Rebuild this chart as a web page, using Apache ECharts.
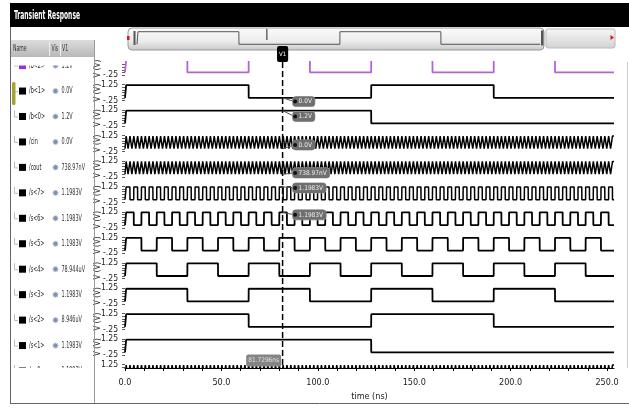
<!DOCTYPE html>
<html>
<head>
<meta charset="utf-8">
<script src="https://cdn.jsdelivr.net/npm/echarts@6.0.0/dist/echarts.min.js"></script>
<style>
    html, body { margin: 0; padding: 0; background: #fff; }
    #main { width: 629px; height: 408px; }
</style>
</head>
<body>
<div id="main"></div>
<script>
// 信号名称(从上到下)
var names = ['/b<2>', '/b<1>', '/b<0>', '/cin', '/cout', '/s<7>', '/s<6>', '/s<5>', '/s<4>', '/s<3>', '/s<2>', '/s<1>', '/s<0>'];
// V1 光标处读数
var cursorValues = ['1.2V', '0.0V', '1.2V', '0.0V', '738.97nV', '1.1983V', '1.1983V', '1.1983V', '78.944uV', '1.1983V', '8.946uV', '1.1983V', '1.1983V'];
var cursorTime = 81.7296; // ns
var cursorLabel = '81.7296ns';
var tickNs = 0.993;      // 每个计数周期
var firstEdgeNs = 0.6;
var highVolt = 1.2;
var timeMax = 253.6;
var timeLabels = [0, 50, 100, 150, 200, 250];
var timeTicks = [0, 10, 20, 30, 40, 50, 60, 70, 80, 90, 100, 110, 120, 130, 140, 150, 160, 170, 180, 190, 200, 210, 220, 230, 240, 250];
var voltLabels = [-0.25, 1.25];
var voltTicks = [-0.25, 0, 0.25, 0.5, 0.75, 1, 1.25];

// 电平: 每个字符一个计数周期, 1=高 0=低 (16个一组)
var lvB2 = '1111111111111111 1111111111111111 0000000000000000 0000000000000000 1111111111111111 1111111111111111 0000000000000000 0000000000000000 1111111111111111 1111111111111111 0000000000000000 0000000000000000 1111111111111111 1111111111111111 0000000000000000 0000000000000000';
var lvB1 = '1111111111111111 1111111111111111 1111111111111111 1111111111111111 0000000000000000 0000000000000000 0000000000000000 0000000000000000 1111111111111111 1111111111111111 1111111111111111 1111111111111111 0000000000000000 0000000000000000 0000000000000000 0000000000000000';
var lvB0 = '1111111111111111 1111111111111111 1111111111111111 1111111111111111 1111111111111111 1111111111111111 1111111111111111 1111111111111111 0000000000000000 0000000000000000 0000000000000000 0000000000000000 0000000000000000 0000000000000000 0000000000000000 0000000000000000';
var lvCin = '1010101010101010 1010101010101010 1010101010101010 1010101010101010 1010101010101010 1010101010101010 1010101010101010 1010101010101010 1010101010101010 1010101010101010 1010101010101010 1010101010101010 1010101010101010 1010101010101010 1010101010101010 1010101010101010';
var lvCout = '1010101010101010 1010101010101010 1010101010101010 1010101010101010 1010101010101010 1010101010101010 1010101010101010 1010101010101010 1010101010101010 1010101010101010 1010101010101010 1010101010101010 1010101010101010 1010101010101010 1010101010101010 1010101010101010';
var lvS7 = '1100110011001100 1100110011001100 1100110011001100 1100110011001100 1100110011001100 1100110011001100 1100110011001100 1100110011001100 1100110011001100 1100110011001100 1100110011001100 1100110011001100 1100110011001100 1100110011001100 1100110011001100 1100110011001100';
var lvS6 = '1111000011110000 1111000011110000 1111000011110000 1111000011110000 1111000011110000 1111000011110000 1111000011110000 1111000011110000 1111000011110000 1111000011110000 1111000011110000 1111000011110000 1111000011110000 1111000011110000 1111000011110000 1111000011110000';
var lvS5 = '1111111100000000 1111111100000000 1111111100000000 1111111100000000 1111111100000000 1111111100000000 1111111100000000 1111111100000000 1111111100000000 1111111100000000 1111111100000000 1111111100000000 1111111100000000 1111111100000000 1111111100000000 1111111100000000';
var lvS4 = '1111111111111111 0000000000000000 1111111111111111 0000000000000000 1111111111111111 0000000000000000 1111111111111111 0000000000000000 1111111111111111 0000000000000000 1111111111111111 0000000000000000 1111111111111111 0000000000000000 1111111111111111 0000000000000000';
var lvS3 = '1111111111111111 1111111111111111 0000000000000000 0000000000000000 1111111111111111 1111111111111111 0000000000000000 0000000000000000 1111111111111111 1111111111111111 0000000000000000 0000000000000000 1111111111111111 1111111111111111 0000000000000000 0000000000000000';
var lvS2 = '1111111111111111 1111111111111111 1111111111111111 1111111111111111 0000000000000000 0000000000000000 0000000000000000 0000000000000000 1111111111111111 1111111111111111 1111111111111111 1111111111111111 0000000000000000 0000000000000000 0000000000000000 0000000000000000';
var lvS1 = '1111111111111111 1111111111111111 1111111111111111 1111111111111111 1111111111111111 1111111111111111 1111111111111111 1111111111111111 0000000000000000 0000000000000000 0000000000000000 0000000000000000 0000000000000000 0000000000000000 0000000000000000 0000000000000000';
var lvS0 = '1010101010101010 1010101010101010 1010101010101010 1010101010101010 1010101010101010 1010101010101010 1010101010101010 1010101010101010 1010101010101010 1010101010101010 1010101010101010 1010101010101010 1010101010101010 1010101010101010 1010101010101010 1010101010101010';

var levelsList = [lvB2, lvB1, lvB0, lvCin, lvCout, lvS7, lvS6, lvS5, lvS4, lvS3, lvS2, lvS1, lvS0];

var FONT = "'DejaVu Sans Condensed', 'Liberation Sans', sans-serif";

// 布局
var plotLeft = 125, plotWidth = 489, plotTop = 62, plotBottom = 368;
var firstRowTop = 59.15, rowPitch = 25.45, rowHeight = 15.9;
var riseNs = 0.05;
var pxPerVolt = rowHeight / 1.5;

function cleanLevels(levels) {
    return levels.replace(/\s+/g, '');
}

// 电平串 -> 折线点
function wavePoints(levels) {
    var s = cleanLevels(levels);
    var pts = [[0, 0]];
    var prev = 0;
    for (var i = 0; i < s.length; i++) {
        var v = s.charAt(i) === '1' ? highVolt : 0;
        var t = firstEdgeNs + i * tickNs;
        if (t >= timeMax) break;
        if (v !== prev) {
            pts.push([t - riseNs, prev]);
            pts.push([t, v]);
            prev = v;
        }
    }
    pts.push([timeMax, prev]);
    return pts;
}

function levelAt(levels, t) {
    var s = cleanLevels(levels);
    if (t < firstEdgeNs) return 0;
    var idx = Math.floor((t - firstEdgeNs) / tickNs);
    return s.charAt(idx) === '1' ? highVolt : 0;
}

var grids = [], xAxes = [], yAxes = [], series = [];
var last = names.length - 1;
for (var i = 0; i < names.length; i++) {
    var rowTop = firstRowTop + i * rowPitch;
    var gTop = rowTop, gHeight = rowHeight, yMin = -0.25, yMax = 1.25;
    if (i === 0) {
        gTop = plotTop;
        gHeight = rowTop + rowHeight - plotTop;
        yMax = yMin + gHeight / pxPerVolt;
    }
    if (i === last) {
        gHeight = plotBottom - rowTop;
        yMin = yMax - gHeight / pxPerVolt;
    }
    grids.push({ left: plotLeft, width: plotWidth, top: gTop, height: gHeight });

    var xa = { gridIndex: i, type: 'value', min: 0, max: timeMax, show: i === last, splitLine: { show: false } };
    if (i === last) {
        xa.axisLine = { lineStyle: { color: '#000', width: 1 } };
        xa.axisTick = { customValues: timeTicks, length: 3, lineStyle: { color: '#000' } };
        xa.axisLabel = {
            customValues: timeLabels, margin: 10, fontSize: 9, color: '#222', fontFamily: FONT,
            formatter: function (v) { return v.toFixed(1); }
        };
        xa.name = 'time (ns)';
        xa.nameLocation = 'middle';
        xa.nameGap = 24;
        xa.nameTextStyle = { fontSize: 9, color: '#222', fontFamily: FONT };
    }
    xAxes.push(xa);

    var lo = yMin - 1e-6, hi = yMax + 1e-6;
    var ya = {
        gridIndex: i, type: 'value', min: yMin, max: yMax,
        axisLine: { show: false },
        splitLine: { show: false },
        axisTick: {
            show: true, length: 3, lineStyle: { color: '#333', width: 0.8 },
            customValues: voltTicks.filter(function (v) { return v >= lo && v <= hi; })
        },
        axisLabel: {
            show: true, margin: 7, fontSize: 8.5, color: '#222', fontFamily: FONT,
            customValues: voltLabels.filter(function (v) { return v >= lo && v <= hi; }),
            formatter: function (v) { return v > 1 ? '1.25' : '-.25'; }
        }
    };
    if (i !== last) {
        ya.name = 'V (V)';
        ya.nameLocation = 'middle';
        ya.nameRotate = 90;
        ya.nameGap = 23;
        ya.nameMoveOverlap = false;
        ya.nameTextStyle = { fontSize: 8, color: '#222', fontFamily: FONT };
    }
    yAxes.push(ya);

    var dense = i >= 3 && i <= 5 || i === last;
    series.push({
        name: names[i],
        type: 'line',
        xAxisIndex: i,
        yAxisIndex: i,
        data: wavePoints(levelsList[i]),
        symbol: 'none',
        silent: true,
        clip: true,
        lineStyle: { color: i === 0 ? '#b462d8' : '#000', width: dense ? 1.5 : 1.8 }
    });
}

// 顶部总览
var ovIndex = names.length;
grids.push({ left: 137, width: 403, top: 31.5, height: 13 });
xAxes.push({ gridIndex: ovIndex, type: 'value', min: 0, max: timeMax, show: false });
yAxes.push({ gridIndex: ovIndex, type: 'value', min: -0.02, max: 1.22, show: false });
series.push({
    name: 'overview', type: 'line', xAxisIndex: ovIndex, yAxisIndex: ovIndex,
    data: wavePoints(lvB1), symbol: 'none', silent: true,
    lineStyle: { color: '#555', width: 1 }
});

var myChart = echarts.init(document.getElementById('main'));
var option = {
    animation: false,
    backgroundColor: '#fff',
    textStyle: { fontFamily: FONT },
    grid: grids,
    xAxis: xAxes,
    yAxis: yAxes,
    series: series
};
myChart.setOption(option);

// 文字宽度测量
var measureCtx = document.createElement('canvas').getContext('2d');
function textWidth(str, size, weight) {
    measureCtx.font = (weight || 'normal') + ' ' + size + 'px ' + FONT;
    return measureCtx.measureText(str).width;
}

var g = [];
// 标题栏
g.push({ type: 'rect', z: 40, shape: { x: 10, y: 3, width: 619, height: 24 }, style: { fill: '#000' } });
g.push({
    type: 'text', z: 41, x: 14, y: 15.5, scaleX: 66 / textWidth('Transient Response', 12, 'bold'),
    style: { text: 'Transient Response', fill: '#fff', fontSize: 12, fontWeight: 'bold', fontFamily: FONT, verticalAlign: 'middle' }
});

// 左侧表头
g.push({
    type: 'rect', z: 5, shape: { x: 11, y: 40, width: 83, height: 17 },
    style: { fill: new echarts.graphic.LinearGradient(0, 0, 0, 1, [{ offset: 0, color: '#dcdcdc' }, { offset: 1, color: '#b8b8b8' }]) }
});
g.push({ type: 'line', z: 6, shape: { x1: 49.5, y1: 41, x2: 49.5, y2: 56 }, style: { stroke: '#eee', lineWidth: 1 } });
g.push({ type: 'line', z: 6, shape: { x1: 60.5, y1: 41, x2: 60.5, y2: 56 }, style: { stroke: '#eee', lineWidth: 1 } });
var listScale = 16 / textWidth('/b<1>', 9);
[['Name', 13], ['Vis', 51.5], ['V1', 62]].forEach(function (h) {
    g.push({
        type: 'text', z: 7, x: h[1], y: 49, scaleX: listScale,
        style: { text: h[0], fill: '#333', fontSize: 8.5, fontFamily: FONT, verticalAlign: 'middle' }
    });
});

// 左侧信号列表
for (var r = 0; r < names.length; r++) {
    var cy = firstRowTop + r * rowPitch + rowHeight / 2 - 1.5;
    g.push({ type: 'polyline', z: 5, shape: { points: [[14.5, cy - 6], [14.5, cy + 0.5], [18, cy + 0.5]] }, style: { stroke: '#bbb', lineWidth: 1, fill: null } });
    g.push({ type: 'rect', z: 5, shape: { x: 19, y: cy - 3.5, width: 7, height: 7 }, style: { fill: r === 0 ? '#9b30d9' : '#000' } });
    g.push({
        type: 'text', z: 5, x: 29, y: cy, scaleX: listScale,
        style: { text: names[r], fill: '#222', fontSize: 9, fontFamily: FONT, verticalAlign: 'middle' }
    });
    g.push({ type: 'circle', z: 5, shape: { cx: 55.5, cy: cy, r: 2.6 }, style: { fill: '#7f90b3', stroke: '#c9d1e2', lineWidth: 1 } });
    g.push({
        type: 'text', z: 5, x: 61.5, y: cy, scaleX: listScale,
        style: { text: cursorValues[r], fill: '#333', fontSize: 9, fontFamily: FONT, verticalAlign: 'middle' }
    });
}
g.push({ type: 'rect', z: 5, shape: { x: 12, y: 82, width: 3.5, height: 23, r: 1.5 }, style: { fill: '#a3a336' } });
// 列表可视区遮挡
g.push({ type: 'rect', z: 30, shape: { x: 11, y: 57, width: 83, height: 8.5 }, style: { fill: '#fff' } });
g.push({ type: 'rect', z: 30, shape: { x: 11, y: 368, width: 83, height: 35 }, style: { fill: '#fff' } });

// 边框
g.push({ type: 'line', z: 31, shape: { x1: 10.5, y1: 27, x2: 10.5, y2: 404 }, style: { stroke: '#666', lineWidth: 1 } });
g.push({ type: 'line', z: 31, shape: { x1: 10, y1: 403.5, x2: 629, y2: 403.5 }, style: { stroke: '#666', lineWidth: 1 } });
g.push({ type: 'line', z: 31, shape: { x1: 94.5, y1: 40, x2: 94.5, y2: 403 }, style: { stroke: '#999', lineWidth: 1 } });
g.push({ type: 'line', z: 31, shape: { x1: 627.5, y1: 62, x2: 627.5, y2: 368 }, style: { stroke: '#ccc', lineWidth: 1 } });

// 总览条
g.push({
    type: 'rect', z: 0, shape: { x: 128, y: 28, width: 416, height: 22, r: 4 },
    style: { fill: new echarts.graphic.LinearGradient(0, 0, 0, 1, [{ offset: 0, color: '#fbfbfb' }, { offset: 0.6, color: '#ececec' }, { offset: 1, color: '#c8c8c8' }]), stroke: '#9a9a9a', lineWidth: 1 }
});
g.push({ type: 'rect', z: 1, shape: { x: 127, y: 36, width: 2.5, height: 4 }, style: { fill: '#d61818' } });
g.push({ type: 'rect', z: 1, shape: { x: 133.5, y: 31, width: 2, height: 14 }, style: { fill: '#555' } });
g.push({ type: 'rect', z: 1, shape: { x: 541, y: 30.5, width: 2.5, height: 15 }, style: { fill: '#555' } });
g.push({
    type: 'rect', z: 0, shape: { x: 546, y: 29, width: 69, height: 19, r: 2 },
    style: { fill: new echarts.graphic.LinearGradient(0, 0, 0, 1, [{ offset: 0, color: '#f7f7f7' }, { offset: 1, color: '#d2d2d2' }]), stroke: '#bbb', lineWidth: 1 }
});
g.push({ type: 'polygon', z: 1, shape: { points: [[610.5, 35], [614, 37.5], [610.5, 40]] }, style: { fill: '#d61818' } });
var ovX = myChart.convertToPixel({ xAxisIndex: ovIndex }, cursorTime);
g.push({ type: 'line', z: 3, shape: { x1: ovX, y1: 29, x2: ovX, y2: 40 }, style: { stroke: '#222', lineWidth: 1 } });

// 光标 V1
var cx = myChart.convertToPixel({ xAxisIndex: last }, cursorTime);
g.push({ type: 'line', z: 20, shape: { x1: cx, y1: 62, x2: cx, y2: 368 }, style: { stroke: '#000', lineWidth: 1.5, lineDash: [6, 3] } });
g.push({
    type: 'text', z: 21, x: cx, y: 54,
    style: { text: 'V1', fill: '#fff', fontSize: 6, fontFamily: FONT, align: 'center', verticalAlign: 'middle', backgroundColor: '#000', padding: [5, 2, 5, 2], borderRadius: 2 }
});
g.push({
    type: 'text', z: 21, x: cx - 1.5, y: 360.5,
    style: { text: cursorLabel, fill: '#e0e0e0', fontSize: 6.5, fontFamily: FONT, align: 'right', verticalAlign: 'middle', backgroundColor: '#858585', padding: [3, 2, 2, 2], borderRadius: 2 }
});

// 光标读数标签
var flagRows = [1, 2, 3, 4, 5, 6];
var flagDy = [17, 6.5, 9.5, 12, 1.5, 3];
flagRows.forEach(function (row, k) {
    var yTop = myChart.convertToPixel({ yAxisIndex: row }, 1.25);
    var yLevel = myChart.convertToPixel({ yAxisIndex: row }, levelAt(levelsList[row], cursorTime));
    var fy = yTop + flagDy[k];
    g.push({ type: 'line', z: 21, shape: { x1: cx, y1: yLevel, x2: cx + 12, y2: fy }, style: { stroke: '#555', lineWidth: 1 } });
    g.push({
        type: 'text', z: 22, x: cx + 10, y: fy,
        style: { text: cursorValues[row], fill: '#eee', fontSize: 6.5, fontFamily: FONT, verticalAlign: 'middle', backgroundColor: '#6f6f6f', borderColor: '#aaa', borderWidth: 0.5, padding: [2, 3, 1, 6], borderRadius: 3 }
    });
    g.push({ type: 'circle', z: 23, shape: { cx: cx + 12.5, cy: fy, r: 2 }, style: { fill: '#111' } });
});

myChart.setOption({ graphic: g });
</script>
</body>
</html>
